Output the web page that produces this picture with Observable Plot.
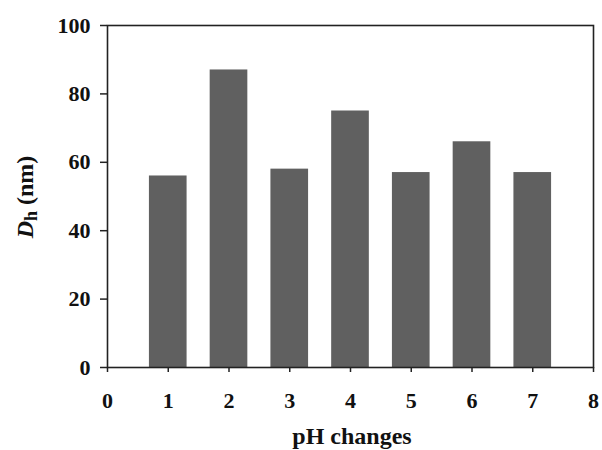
<!DOCTYPE html>
<html>
<head>
<meta charset="utf-8">
<script src="https://cdn.jsdelivr.net/npm/d3@7"></script>
<script src="https://cdn.jsdelivr.net/npm/@observablehq/plot@0.6"></script>
<style>
  html, body { margin: 0; padding: 0; background: #fff; }
  #chart svg { display: block; }
</style>
</head>
<body>
<div id="chart"></div>
<script>
const phChanges = [1, 2, 3, 4, 5, 6, 7];
const dh = [56, 87, 58, 75, 57, 66, 57];
const xTicks = [0, 1, 2, 3, 4, 5, 6, 7, 8];
const yTicks = [0, 20, 40, 60, 80, 100];
const xLabel = "pH changes";

const data = phChanges.map((p, i) => ({ p, v: dh[i] }));
const halfWidth = 0.31;

const font = "'Liberation Serif', 'Times New Roman', serif";

const chart = Plot.plot({
  width: 602,
  height: 450,
  marginLeft: 107,
  marginTop: 25,
  marginRight: 9,
  marginBottom: 83,
  style: { fontFamily: font, fontSize: "22px", fontWeight: "bold", color: "#111", background: "#fff" },
  x: { domain: [0, 8] },
  y: { domain: [0, 100] },
  marks: [
    Plot.rectY(data, { x1: d => d.p - halfWidth, x2: d => d.p + halfWidth, y1: 0, y2: "v", fill: "#606060" }),
    Plot.frame({ stroke: "#222", strokeWidth: 1.6 }),
    Plot.axisX({ ticks: xTicks, tickSize: 5, tickPadding: 20, fontSize: 22, tickFormat: d3.format("d"), label: null, strokeWidth: 1.5, stroke: "#222" }),
    Plot.axisY({ ticks: yTicks, tickSize: 7, tickPadding: 10, fontSize: 22, tickFormat: d3.format("d"), label: null, strokeWidth: 1.5, stroke: "#222" })
  ]
});

document.getElementById("chart").appendChild(chart);

const svg = d3.select(chart);
svg.append("text")
  .attr("x", 352).attr("y", 444)
  .attr("text-anchor", "middle")
  .attr("font-family", font).attr("font-weight", "bold").attr("font-size", 24)
  .attr("fill", "#111")
  .text(xLabel);

const yl = svg.append("text")
  .attr("transform", "translate(33,197) rotate(-90)")
  .attr("text-anchor", "middle")
  .attr("font-family", font).attr("font-weight", "bold").attr("font-size", 24)
  .attr("fill", "#111");
yl.append("tspan").attr("font-style", "italic").text("D");
yl.append("tspan").attr("font-size", 18).attr("dy", 4).text("h");
yl.append("tspan").attr("dy", -4).text(" (nm)");
</script>
</body>
</html>
